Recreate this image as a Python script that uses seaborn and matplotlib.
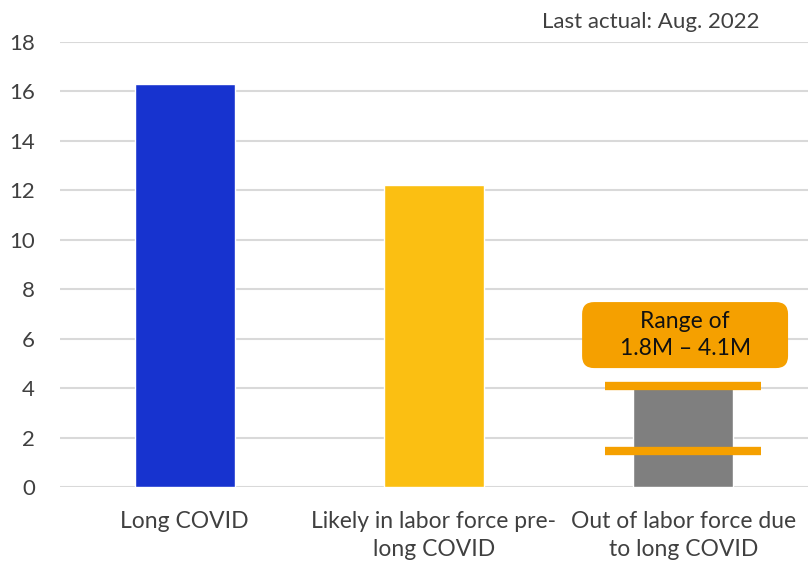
import matplotlib
matplotlib.use("Agg")
import matplotlib.pyplot as plt
import seaborn as sns
import pandas as pd
from matplotlib.patches import FancyBboxPatch

categories = ["Long COVID", "Likely in labor force pre-\nlong COVID", "Out of labor force due\nto long COVID"]
values = [16.3, 12.2, 4.05]
bar_colors = ["#1733CF", "#FBBF12", "#7F7F7F"]
range_low = 1.45
range_high = 4.1
range_label = "Range of\n1.8M \u2013 4.1M"
yticks = [0, 2, 4, 6, 8, 10, 12, 14, 16, 18]
note = "Last actual: Aug. 2022"

sns.set_theme(style="white")
plt.rcParams['font.family'] = ['Lato', 'DejaVu Sans']

df = pd.DataFrame({"cat": categories, "val": values})

fig = plt.figure(figsize=(8.12, 5.64), dpi=100)
ax = fig.add_axes([60/812, 77/564, 748/812, 445/564])
sns.barplot(data=df, x="cat", y="val", hue="cat", palette=bar_colors,
            width=0.4, legend=False, ax=ax, saturation=1, zorder=3)

ax.set_xlim(-0.5, 2.5)
ax.set_ylim(0, 18)
ax.set_yticks(yticks)
ax.set_yticklabels([str(t) for t in yticks])
ax.yaxis.grid(True, color="#D9D9D9", linewidth=1.5, zorder=0)
ax.xaxis.grid(False)
for s in ax.spines.values():
    s.set_visible(False)
ax.tick_params(axis="y", length=0, pad=18, labelsize=16, labelcolor="#404040")
ax.tick_params(axis="x", length=0, pad=17, labelsize=16.5, labelcolor="#404040")
for lab in ax.get_yticklabels():
    lab.set_horizontalalignment("right")
for lab in ax.get_xticklabels():
    lab.set_linespacing(1.45)
ax.set_xlabel("")
ax.set_ylabel("")

# range markers
ax.hlines([range_low, range_high], 2 - 0.3125, 2 + 0.3125, colors="#F5A000", linewidth=6, zorder=4)

# range label box (pixel-sized rounded box placed in data coordinates)
px_x = 748 / 3.0          # pixels per x unit
px_y = 445 / 18.0         # pixels per y unit
box_x0, box_x1 = 1.594, 2.420
box_y0, box_y1 = 4.81, 7.48
rpx = 12
box = FancyBboxPatch((box_x0 + rpx / px_x, box_y0 + rpx / px_y),
                     (box_x1 - box_x0) - 2 * rpx / px_x, (box_y1 - box_y0) - 2 * rpx / px_y,
                     boxstyle=f"round,pad={rpx/px_x},rounding_size={rpx/px_x}",
                     mutation_aspect=px_x / px_y,
                     facecolor="#F5A000", edgecolor="none", zorder=5)
ax.add_patch(box)
ax.text(2.007, (box_y0 + box_y1) / 2, range_label, ha="center", va="center", fontsize=16.5,
        color="#111111", linespacing=1.35, zorder=6)

fig.text(760/812, 1 - 22/564, note, ha="right", va="center", fontsize=16, color="#404040")

fig.savefig("out.png", dpi=100)
